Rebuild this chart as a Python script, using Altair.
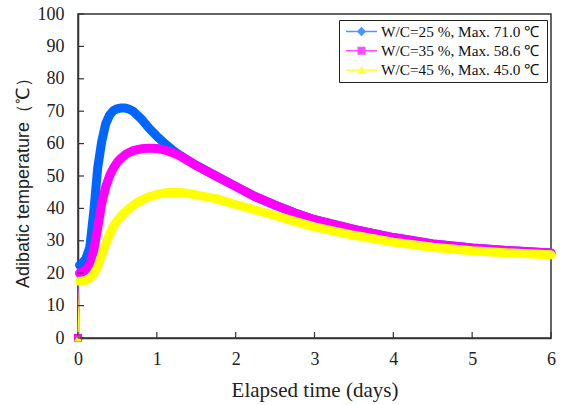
import altair as alt
import pandas as pd

# ---- data ----
series = ["W/C=25 %, Max.  71.0 ℃", "W/C=35 %, Max.  58.6 ℃", "W/C=45 %, Max.  45.0 ℃"]
colors = ["#0066ff", "#ff00ff", "#ffff00"]

t_days = [0, 0.02, 0.05, 0.1, 0.15, 0.2, 0.25, 0.3, 0.35, 0.4, 0.45, 0.5, 0.55, 0.6,
          0.65, 0.7, 0.8, 0.9, 1.0, 1.1, 1.2, 1.3, 1.4, 1.5, 1.75, 2.0, 2.25, 2.5,
          2.75, 3.0, 3.5, 4.0, 4.5, 5.0, 5.5, 6.0]

wc25 = [0, 22.5, 23, 24.5, 28, 39, 52.5, 60.5, 66, 68.8, 70.2, 70.8, 71, 71,
        70.6, 70, 67.7, 64.8, 62.3, 60, 58, 56.3, 54.7, 53.3, 50, 46.8, 43.6, 41,
        38.6, 36.5, 33.5, 31, 29, 27.8, 26.9, 26.2]
wc35 = [0, 20, 20.3, 21, 22.5, 27, 34, 41.5, 46.5, 50, 52.5, 54.3, 55.6, 56.6,
        57.3, 57.8, 58.4, 58.6, 58.5, 58, 57.2, 56.1, 54.7, 53.2, 50, 46.8, 43.6, 41,
        38.6, 36.5, 33.5, 31, 29, 27.8, 26.9, 26.2]
wc45 = [0, 17.5, 17.6, 17.8, 18.5, 19.8, 22, 25.5, 29, 32, 34.5, 36.3, 37.7, 39,
        40, 41, 42.5, 43.6, 44.3, 44.8, 45, 44.9, 44.6, 44.2, 43, 41.2, 39.5, 37.8,
        36, 34.3, 31.7, 29.6, 28, 26.9, 26.2, 25.7]

x_ticks = [0, 1, 2, 3, 4, 5, 6]
y_ticks = [0, 10, 20, 30, 40, 50, 60, 70, 80, 90, 100]

# legend symbols: line + marker (custom paths)
legend_shapes = [
    "M-1,-0.05H1V0.05H-1Z M0,-0.3L0.3,0L0,0.3L-0.3,0Z",
    "M-1,-0.05H1V0.05H-1Z M-0.26,-0.26H0.26V0.26H-0.26Z",
    "M-1,-0.05H1V0.05H-1Z M0,-0.3L0.33,0.25H-0.33Z",
]
zero_shapes = ["diamond", "square", "triangle-up"]

rows = []
for s, vals in zip(series, [wc25, wc35, wc45]):
    for t, v in zip(t_days, vals):
        rows.append({"t": t, "T": v, "s": s})
df = pd.DataFrame(rows)

W, H = 473, 324
serif = "Liberation Serif"
X_TITLE = "Elapsed time (days)"
Y_TITLE = "Adibatic temperature（℃）"

x_scale = alt.Scale(domain=[0, 6], nice=False, padding=0, zero=False)
y_scale = alt.Scale(domain=[0, 100], nice=False, padding=0)

x_enc = alt.X("t:Q", scale=x_scale, title=X_TITLE)
y_enc = alt.Y("T:Q", scale=y_scale, title=Y_TITLE)

color_scale = alt.Scale(domain=series, range=colors)
base = alt.Chart(df)

thin = base.mark_line(strokeWidth=1.2).encode(
    x=x_enc, y=y_enc,
    color=alt.Color("s:N", scale=color_scale, sort=series,
                    legend=alt.Legend(title=None, orient="none", legendX=261, legendY=6,
                                      labelFont=serif, labelFontSize=15.3,
                                      labelColor="#111",
                                      symbolSize=961, symbolStrokeWidth=0,
                                      symbolOffset=4,
                                      clipHeight=17, rowPadding=2.3, padding=3,
                                      labelOffset=4, labelLimit=300,
                                      strokeColor="#222", fillColor="white")),
    order="t:Q")

# legend-carrying markers, placed at the end points under the thick bands
legend_layer = base.transform_filter("datum.t == 6").mark_point(
    filled=True, size=961, clip=True).encode(
    x=x_enc, y=y_enc,
    color=alt.Color("s:N", scale=color_scale, sort=series),
    shape=alt.Shape("s:N", scale=alt.Scale(domain=series, range=legend_shapes),
                    sort=series),
)

thick = base.transform_filter("datum.t > 0").mark_line(
    strokeWidth=9, strokeCap="round", strokeJoin="round").encode(
    x=x_enc, y=y_enc, color=alt.Color("s:N", scale=color_scale, sort=series),
    order="t:Q")

zero_layers = []
for s, c, shp in zip(series, colors, zero_shapes):
    zero_layers.append(
        base.transform_filter(alt.datum.s == s).transform_filter("datum.t == 0")
        .mark_point(filled=True, opacity=1, size=64, shape=shp, color=c, clip=False)
        .encode(x=x_enc, y=y_enc))

xt = alt.Chart(pd.DataFrame({"v": x_ticks})).mark_rule(color="#333", strokeWidth=1.2).encode(
    x=alt.X("v:Q", scale=x_scale, title=X_TITLE), y=alt.value(H), y2=alt.value(H - 6))
yt = alt.Chart(pd.DataFrame({"v": y_ticks})).mark_rule(color="#333", strokeWidth=1.2).encode(
    y=alt.Y("v:Q", scale=y_scale, title=Y_TITLE), x=alt.value(0), x2=alt.value(6))

chart = alt.layer(thin, legend_layer, thick, *zero_layers, xt, yt).properties(
    width=W, height=H,
    autosize=alt.AutoSizeParams(type="none"),
    padding={"left": 78, "top": 14, "right": 12, "bottom": 67},
    background="white",
).configure_view(stroke="#333", strokeWidth=1.5).configure_axis(
    grid=False, tickSize=0, labelFont=serif, labelFontSize=18, labelColor="#222",
    domainColor="#333", domainWidth=1.5, titleColor="#222", titleFontWeight="normal",
    format="d", labelOverlap=False, labelFlush=False,
).configure_axisX(
    tickCount=6, labelPadding=12, titleFont=serif, titleFontSize=21,
    titleY=52, titleBaseline="middle",
).configure_axisY(
    tickCount=10, labelPadding=14, titleFont="Liberation Sans", titleFontSize=18,
    titleAngle=-90, titleX=-55, titleY=164, titleAlign="center", titleBaseline="middle",
)

chart.save("out.html", embed_options={"renderer": "svg", "actions": False})
